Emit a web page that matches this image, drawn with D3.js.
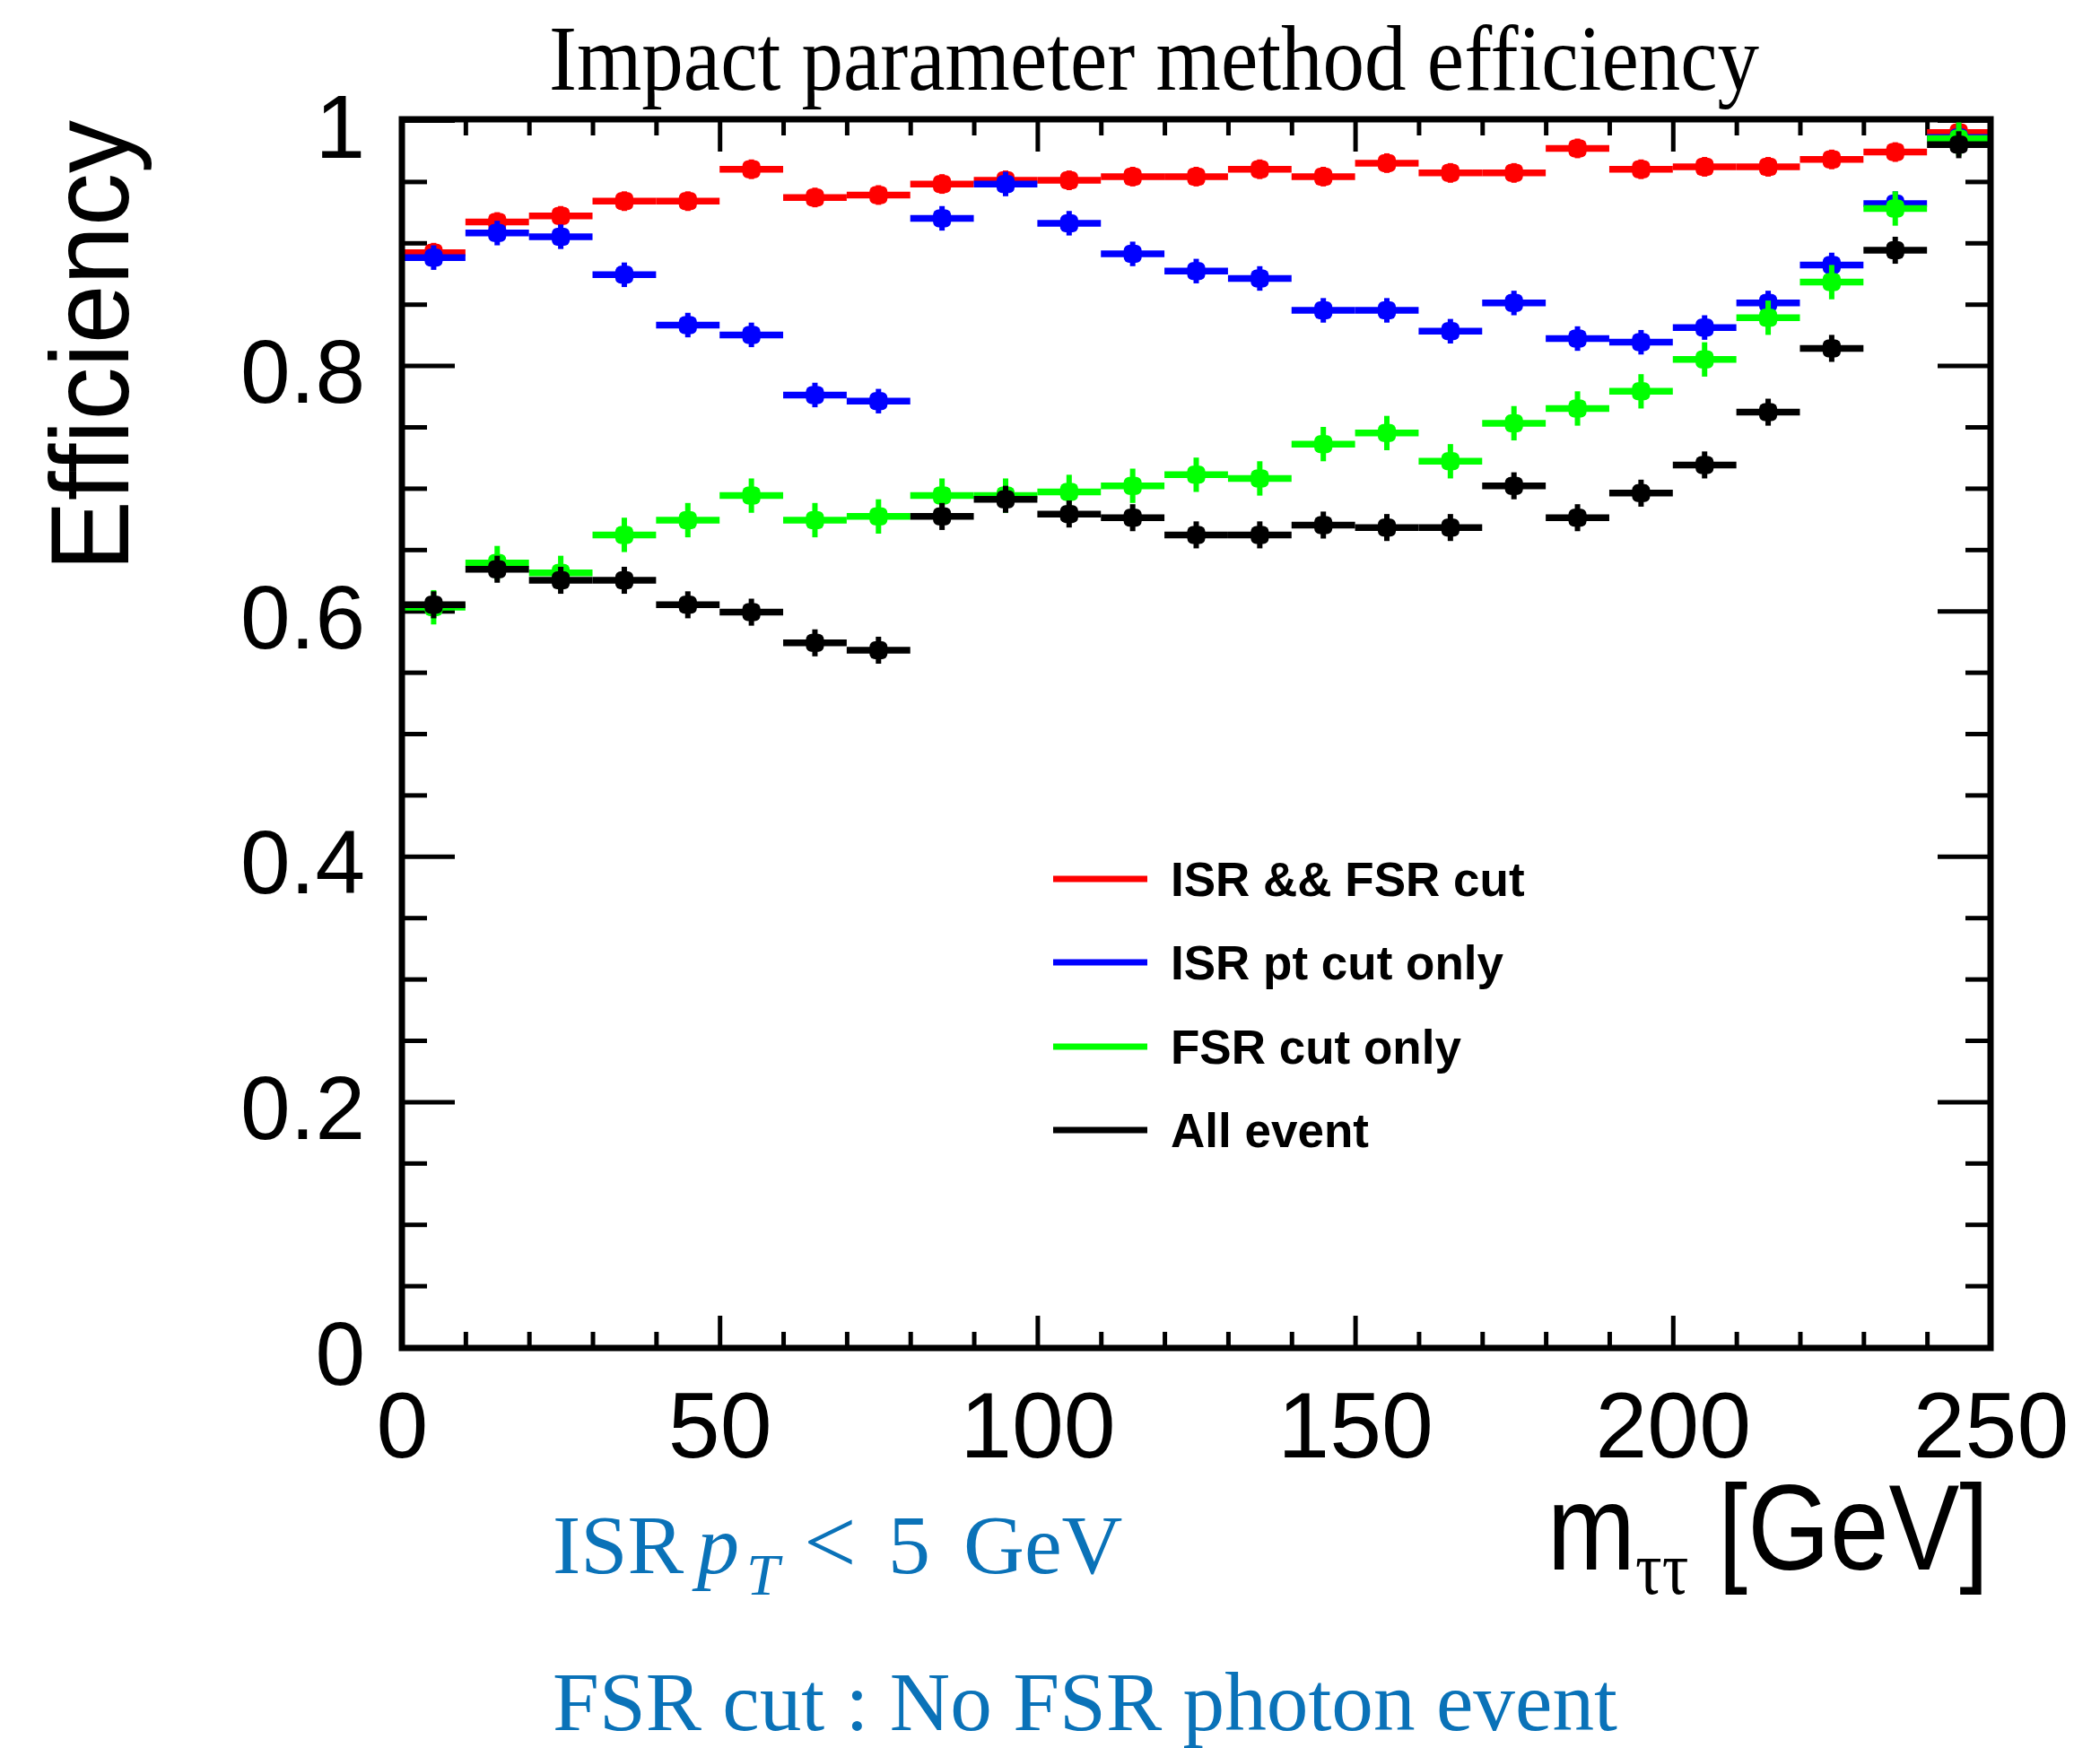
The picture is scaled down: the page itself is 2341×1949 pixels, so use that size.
<!DOCTYPE html>
<html>
<head>
<meta charset="utf-8">
<script src="https://cdn.jsdelivr.net/npm/d3@7"></script>
<style>
  html, body { margin: 0; padding: 0; background: #ffffff; }
  svg { display: block; }
</style>
</head>
<body>
<svg id="chart" width="2341" height="1949"></svg>
<script>
// ---------------- data ----------------
const binLow = [0,10,20,30,40,50,60,70,80,90,100,110,120,130,140,150,160,170,180,190,200,210,220,230,240];
const binWidth = 10;

const isrFsrCut = [0.892,0.917,0.922,0.934,0.934,0.960,0.937,0.939,0.948,0.951,0.951,0.954,0.954,0.960,0.954,0.965,0.957,0.957,0.977,0.960,0.962,0.962,0.968,0.974,0.990];
const isrPtCutOnly = [0.888,0.908,0.905,0.874,0.833,0.825,0.776,0.771,0.920,0.948,0.916,0.891,0.877,0.871,0.845,0.845,0.828,0.851,0.822,0.819,0.831,0.851,0.882,0.932,0.986];
const fsrCutOnly = [0.603,0.639,0.631,0.662,0.674,0.694,0.674,0.677,0.694,0.694,0.697,0.702,0.711,0.708,0.736,0.745,0.722,0.753,0.765,0.779,0.805,0.839,0.868,0.928,0.985];
const allEvent = [0.605,0.634,0.625,0.625,0.605,0.599,0.574,0.568,0.677,0.691,0.679,0.676,0.662,0.662,0.670,0.668,0.668,0.702,0.676,0.696,0.719,0.762,0.814,0.894,0.980];

const seriesNames = ["ISR && FSR cut", "ISR pt cut only", "FSR cut only", "All event"];
const seriesColors = ["#ff0000", "#0000ff", "#00ff00", "#000000"];
const seriesErrors = [0.008, 0.010, 0.014, 0.011];
const seriesValues = [isrFsrCut, isrPtCutOnly, fsrCutOnly, allEvent];

const xMajorTicks = [0,50,100,150,200,250];
const xTickLabels = ["0","50","100","150","200","250"];
const yMajorTicks = [0,0.2,0.4,0.6,0.8,1];
const yTickLabels = ["0","0.2","0.4","0.6","0.8","1"];

const titleText = "Impact parameter method efficiency";
const yTitle = "Efficiency";
const noteLine2 = "FSR cut : No FSR photon event";

// ---------------- layout ----------------
const svg = d3.select("#chart");
svg.append("rect").attr("width", 2341).attr("height", 1949).attr("fill", "#fff");

const X0 = 448, X1 = 2219, Y0 = 1502, Y1 = 134;
const x = d3.scaleLinear().domain([0, 250]).range([X0, X1]);
const y = d3.scaleLinear().domain([0, 1]).range([Y0, Y1]);

const sans = "'Liberation Sans', Arial, Helvetica, sans-serif";
const serif = "'Liberation Serif', 'Times New Roman', Times, serif";

const xMinor = d3.range(0, 251, 10).filter(v => v % 50 !== 0);
const yMinor = d3.range(0, 21).map(i => i * 0.05).filter((v, i) => i % 4 !== 0);

function styleAxis(g) {
  g.select(".domain").remove();
  g.selectAll(".tick line").attr("stroke", "#000").attr("stroke-width", 5);
}

// left axis (labels)
const gl = svg.append("g").attr("transform", `translate(${X0},0)`)
  .call(d3.axisLeft(y).tickValues(yMajorTicks).tickSize(-59).tickPadding(41)
    .tickFormat((d, i) => yTickLabels[i]));
styleAxis(gl);
gl.selectAll(".tick text").attr("font-family", sans).attr("font-size", 100)
  .attr("fill", "#000").attr("dy", "0.41em");
svg.append("g").attr("transform", `translate(${X0},0)`)
  .call(d3.axisLeft(y).tickValues(yMinor).tickSize(-28).tickFormat(""))
  .call(styleAxis);
// right axis ticks
svg.append("g").attr("transform", `translate(${X1},0)`)
  .call(d3.axisRight(y).tickValues(yMajorTicks).tickSize(-59).tickFormat(""))
  .call(styleAxis);
svg.append("g").attr("transform", `translate(${X1},0)`)
  .call(d3.axisRight(y).tickValues(yMinor).tickSize(-28).tickFormat(""))
  .call(styleAxis);
// bottom axis (labels)
const gb = svg.append("g").attr("transform", `translate(0,${Y0})`)
  .call(d3.axisBottom(x).tickValues(xMajorTicks).tickSize(-35).tickPadding(0)
    .tickFormat((d, i) => xTickLabels[i]));
styleAxis(gb);
gb.selectAll(".tick text").attr("font-family", sans).attr("font-size", 104)
  .attr("fill", "#000").attr("dy", null).attr("y", 123);
svg.append("g").attr("transform", `translate(0,${Y0})`)
  .call(d3.axisBottom(x).tickValues(xMinor).tickSize(-17).tickFormat(""))
  .call(styleAxis);
// top axis ticks
svg.append("g").attr("transform", `translate(0,${Y1})`)
  .call(d3.axisTop(x).tickValues(xMajorTicks).tickSize(-35).tickFormat(""))
  .call(styleAxis);
svg.append("g").attr("transform", `translate(0,${Y1})`)
  .call(d3.axisTop(x).tickValues(xMinor).tickSize(-17).tickFormat(""))
  .call(styleAxis);

// ---------------- data marks ----------------
seriesValues.forEach((vals, s) => {
  const g = svg.append("g").attr("class", "series");
  const col = seriesColors[s];
  const err = seriesErrors[s];
  const pts = vals.map((v, i) => ({ lo: binLow[i], v }));
  g.selectAll("line.h").data(pts).join("line").attr("class", "h")
    .attr("x1", d => x(d.lo)).attr("x2", d => x(d.lo + binWidth))
    .attr("y1", d => y(d.v)).attr("y2", d => y(d.v))
    .attr("stroke", col).attr("stroke-width", 7.5);
  g.selectAll("line.v").data(pts).join("line").attr("class", "v")
    .attr("x1", d => x(d.lo + binWidth / 2)).attr("x2", d => x(d.lo + binWidth / 2))
    .attr("y1", d => y(Math.min(1, d.v + err))).attr("y2", d => y(d.v - err))
    .attr("stroke", col).attr("stroke-width", 6);
  g.selectAll("rect.m").data(pts).join("rect").attr("class", "m")
    .attr("x", d => x(d.lo + binWidth / 2) - 10).attr("y", d => y(d.v) - 10)
    .attr("width", 20).attr("height", 20).attr("rx", 6).attr("ry", 6)
    .attr("fill", col);
});

// frame
svg.append("rect").attr("x", X0).attr("y", Y1 - 1).attr("width", X1 - X0).attr("height", Y0 - Y1 + 2)
  .attr("fill", "none").attr("stroke", "#000").attr("stroke-width", 7);

// ---------------- legend ----------------
const legY = [980, 1073, 1167, 1260];
const lg = svg.append("g");
seriesNames.forEach((name, i) => {
  lg.append("line").attr("x1", 1174).attr("x2", 1279).attr("y1", legY[i]).attr("y2", legY[i])
    .attr("stroke", seriesColors[i]).attr("stroke-width", 7);
  lg.append("text").attr("x", 1305).attr("y", legY[i] + 19)
    .attr("font-family", sans).attr("font-weight", "bold").attr("font-size", 53)
    .attr("fill", "#000").text(name);
});

// ---------------- titles ----------------
svg.append("text").attr("x", 612).attr("y", 100)
  .attr("font-family", serif).attr("font-size", 104)
  .attr("textLength", 1349).attr("lengthAdjust", "spacingAndGlyphs")
  .attr("fill", "#000").text(titleText);

svg.append("text").attr("transform", "translate(143,134) rotate(-90)")
  .attr("text-anchor", "end").attr("font-family", sans).attr("font-size", 124)
  .attr("textLength", 503).attr("lengthAdjust", "spacingAndGlyphs")
  .attr("fill", "#000").text(yTitle);

const xt = svg.append("text").attr("transform", "translate(2217,1750) scale(1,1.14)")
  .attr("text-anchor", "end").attr("font-family", sans).attr("font-size", 118).attr("fill", "#000");
xt.append("tspan").text("m");
xt.append("tspan").attr("font-family", serif).attr("font-size", 74)
  .attr("dy", 24).text("\u03c4\u03c4");
xt.append("tspan").attr("dy", -24).text(" [GeV]");

// ---------------- notes ----------------
const noteColor = "#0a72b8";
const n1 = svg.append("text").attr("font-family", serif).attr("font-size", 94).attr("fill", noteColor);
n1.append("tspan").attr("x", 616).attr("y", 1754).text("ISR");
n1.append("tspan").attr("x", 777).attr("y", 1754).attr("font-style", "italic").text("p");
n1.append("tspan").attr("x", 832).attr("y", 1778).attr("font-style", "italic").attr("font-size", 66).text("T");
n1.append("tspan").attr("x", 896).attr("y", 1754).attr("font-size", 104).text("<");
n1.append("tspan").attr("x", 990).attr("y", 1754).text("5");
n1.append("tspan").attr("x", 1074).attr("y", 1754).text("GeV");

svg.append("text").attr("x", 616).attr("y", 1929)
  .attr("font-family", serif).attr("font-size", 94)
  .attr("textLength", 1187).attr("lengthAdjust", "spacingAndGlyphs")
  .attr("fill", noteColor).text(noteLine2);
</script>
</body>
</html>
